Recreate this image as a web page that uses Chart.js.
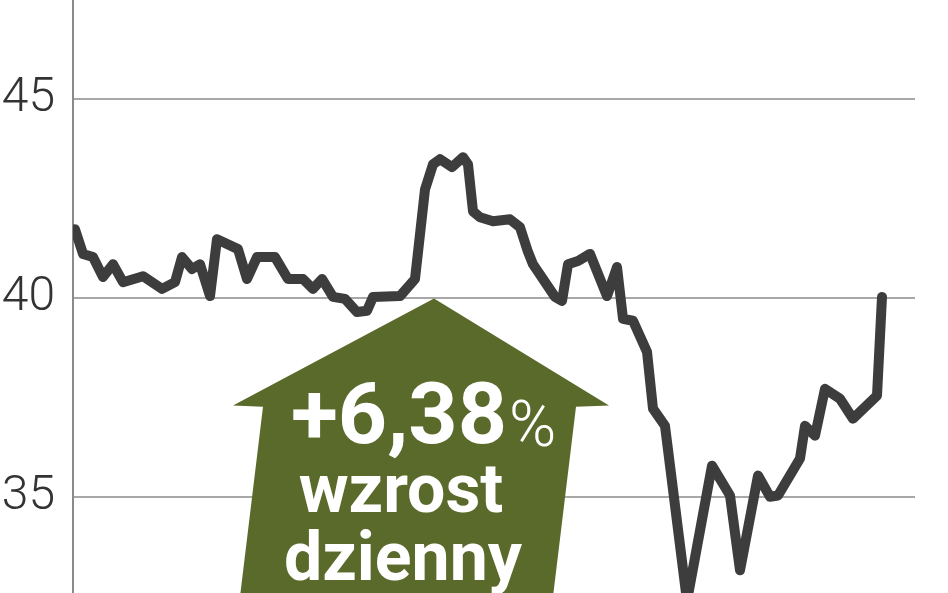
<!DOCTYPE html>
<html>
<head>
<meta charset="utf-8">
<script src="https://cdn.jsdelivr.net/npm/chart.js@4.4.0/dist/chart.umd.min.js"></script>
<style>
  html, body { margin: 0; padding: 0; background: #fff; }
  canvas { display: block; }
</style>
</head>
<body>
<canvas id="kurs" width="948" height="593"></canvas>
<script>
// trading days (position along the period) and closing price
const days = [0, 0.8, 1.8, 2.8, 3.8, 4.8, 6.8, 8.7, 10, 10.7, 11.7, 12.5, 13.5, 14.2, 16.3, 17.2, 18.2, 20,
  21.3, 22.8, 23.8, 24.7, 25.8, 27, 28.2, 29.2, 29.8, 32.5, 34, 35, 35.8, 36.5, 37.7, 38.8, 39.3, 39.8,
  40.5, 41.8, 43.5, 44.5, 45.3, 45.8, 48, 48.7, 49.3, 50.3, 51.5, 53.2, 54.2, 54.8, 55.8, 57.2, 57.8,
  59, 61.2, 63.7, 65.5, 66.5, 68.3, 69.5, 70.3, 72.5, 73, 74, 75, 76.5, 77.8, 80.2, 80.7];
const prices = [41.74, 41.12, 41.04, 40.54, 40.86, 40.41, 40.56, 40.24, 40.41, 41.04, 40.74, 40.86, 40.06, 41.49, 41.24, 40.49, 41.04, 41.04,
  40.49, 40.49, 40.24, 40.49, 40.04, 39.99, 39.66, 39.69, 40.04, 40.06, 40.49, 42.74, 43.37, 43.50, 43.30, 43.55, 43.37, 42.19,
  42.04, 41.94, 41.99, 41.79, 41.17, 40.86, 40.04, 39.94, 40.86, 40.94, 41.12, 40.06, 40.79, 39.49, 39.44, 38.66, 37.23,
  36.80, 32.4, 35.80, 35.05, 33.17, 35.55, 35.02, 35.05, 35.98, 36.80, 36.55, 37.73, 37.48, 36.98, 37.56, 40.04];
const yTicks = [35, 40, 45];

const changeLabel = '+6,38';
const changeLines = ['wzrost', 'dzienny'];

// arrow outline in data units (day, price)
const arrowShape = [[35.9, 40.0], [53.4, 37.31], [50.1, 37.28], [47.7, 32.3], [16.4, 32.3], [18.8, 37.28], [15.8, 37.31]];

const arrowPlugin = {
  id: 'arrow',
  beforeDatasetsDraw(chart) {
    const { ctx, scales: { x, y } } = chart;
    ctx.save();
    ctx.beginPath();
    arrowShape.forEach(([d, v], i) => {
      const px = x.getPixelForValue(d), py = y.getPixelForValue(v);
      if (i === 0) ctx.moveTo(px, py); else ctx.lineTo(px, py);
    });
    ctx.closePath();
    ctx.fillStyle = '#5a6a2b';
    ctx.fill();

    ctx.fillStyle = '#ffffff';
    ctx.textBaseline = 'alphabetic';
    ctx.font = 'bold 86px Roboto';
    ctx.textAlign = 'right';
    ctx.fillText(changeLabel, 507, 443);
    ctx.font = '300 64px Roboto';
    ctx.textAlign = 'left';
    ctx.fillText('%', 509, 446);
    ctx.font = 'bold 68px Roboto';
    ctx.textAlign = 'center';
    ctx.fillText(changeLines[0], 401, 512);
    ctx.fillText(changeLines[1], 403, 580);
    ctx.restore();
  }
};

new Chart(document.getElementById('kurs'), {
  type: 'line',
  data: {
    datasets: [{
      data: days.map((d, i) => ({ x: d, y: prices[i] })),
      borderColor: '#3d3d3d',
      borderWidth: 10,
      borderJoinStyle: 'round',
      borderCapStyle: 'round',
      pointRadius: 0,
      tension: 0
    }]
  },
  options: {
    responsive: false,
    animation: false,
    layout: {
      padding: { left: 0, right: 33, top: 0, bottom: 0 }
    },
    scales: {
      x: {
        type: 'linear',
        display: false,
        min: -0.2,
        max: 84
      },
      y: {
        min: 32.6,
        max: 47.5,
        afterBuildTicks: (scale) => {
          scale.ticks = yTicks.map(v => ({ value: v }));
        },
        afterFit: (scale) => {
          scale.width = 73;
          scale.paddingTop = 0;
          scale.paddingBottom = 0;
        },
        grid: {
          color: '#a8a8a8',
          lineWidth: 2,
          drawTicks: false
        },
        border: {
          display: true,
          color: '#8a8a8a',
          width: 2
        },
        ticks: {
          padding: 18,
          color: '#333333',
          font: { family: 'Roboto', size: 48, weight: '300' }
        }
      }
    },
    plugins: {
      legend: { display: false },
      tooltip: { enabled: false }
    }
  },
  plugins: [arrowPlugin]
});
</script>
</body>
</html>
